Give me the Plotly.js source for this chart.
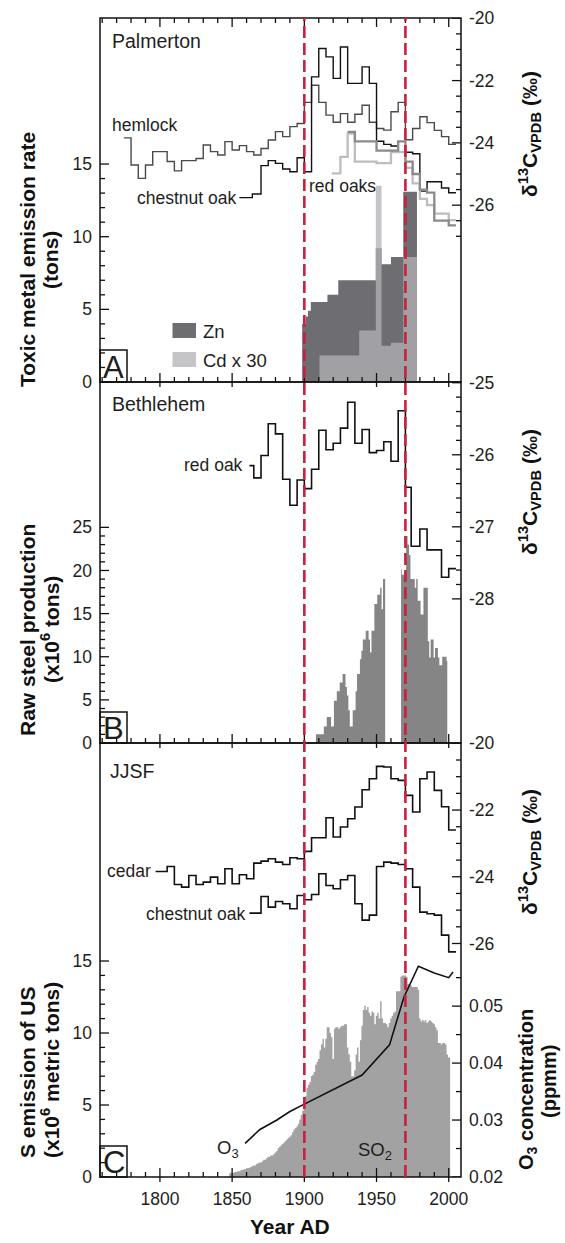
<!DOCTYPE html>
<html><head><meta charset="utf-8">
<script src="https://cdn.plot.ly/plotly-3.0.1.min.js"></script>
<style>html,body{margin:0;padding:0;background:#fff}#chart{width:565px;height:1243px}</style>
</head><body><div id="chart"></div>
<script>
// ---------------- DATA ----------------
// Panel A (Palmerton)
const znYears = [1898.5, 1901, 1902.5, 1904.5, 1916, 1923.5, 1949.5, 1953.5, 1960, 1968.5, 1978];
const znTons  = [4.0, 4.5, 4.9, 5.5, 6.0, 7.0, 9.2, 8.1, 8.6, 13.1, 0];
const cdYears = [1910.5, 1938, 1949.5, 1953.5, 1960, 1968.5, 1978];
const cdTonsX30 = [1.83, 3.55, 13.5, 2.5, 2.7, 8.6, 0];

const hemlockYears = [1775,1780,1785,1790,1795,1800,1805,1810,1815,1820,1825,1830,1835,1840,1845,1850,1855,1860,1865,1870,1875,1880,1885,1890,1895,1900,1905,1910,1915,1920,1925,1930,1935,1940,1945,1950,1955,1960,1965,1970,1975,1980,1985,1990,1995,2000,2005];
const hemlockD13C = [-23.84,-24.71,-25.14,-24.71,-24.28,-24.28,-24.60,-24.90,-24.57,-24.57,-24.50,-24.07,-24.28,-24.39,-23.96,-24.23,-24.09,-24.28,-24.39,-24.18,-23.91,-23.64,-23.80,-23.48,-23.38,-22.70,-22.15,-22.70,-23.11,-23.34,-23.06,-23.34,-23.08,-22.79,-23.34,-23.54,-23.59,-23.00,-22.70,-23.90,-23.54,-23.16,-23.35,-23.60,-23.80,-24.05,-24.05];

const chestnutAYears = [1855,1864,1870,1875,1880,1885,1890,1895,1900,1905,1910,1915,1920,1925,1930,1935,1940,1945,1950,1955,1960,1965,1970,1975,1980,1985,1990,1995,2000,2005];
const chestnutAD13C = [-25.76,-25.64,-24.73,-24.57,-24.66,-24.84,-24.93,-24.48,-24.93,-21.88,-20.97,-21.24,-21.93,-20.92,-22.09,-22.09,-21.56,-22.09,-23.95,-24.05,-24.10,-24.28,-24.30,-24.35,-25.55,-25.25,-25.25,-25.45,-25.60,-25.60];

const redOakLightYears = [1919,1925,1930,1935,1940,1945,1950,1955,1960,1965,1970,1975,1980,1985,1990,1995,2000,2005];
const redOakLightD13C = [-24.98,-24.45,-23.70,-24.60,-24.60,-24.60,-24.65,-24.65,-24.30,-24.30,-24.80,-25.30,-25.80,-26.00,-26.27,-26.27,-26.48,-26.48];
const redOakDarkYears = [1930,1935,1940,1945,1950,1955,1960,1965,1970,1975,1980,1985,1990,1995,2000,2005];
const redOakDarkD13C = [-23.65,-23.95,-23.95,-23.95,-24.25,-24.25,-24.25,-23.95,-24.60,-25.00,-25.50,-25.60,-26.50,-26.50,-26.65,-26.65];

// Panel B (Bethlehem)
const steelYears = [1908,1909,1910,1911,1912,1913,1914,1915,1916,1917,1918,1919,1920,1921,1922,1923,1924,1925,1926,1927,1928,1929,1930,1931,1932,1933,1934,1935,1936,1937,1938,1939,1940,1941,1942,1943,1944,1945,1946,1947,1948,1949,1950,1951,1952,1953,1954,1955,1956,1967,1968,1969,1970,1971,1972,1973,1974,1975,1976,1977,1978,1979,1980,1981,1982,1983,1984,1985,1986,1987,1988,1989,1990,1991,1992,1993,1994,1995,1996,1997,1998,1999];
const steelMt = [1.0,1.0,1.0,1.0,1.0,1.0,1.9,1.9,3.0,3.0,3.0,1.9,1.9,4.9,4.9,6.0,6.0,7.0,7.0,8.0,8.0,6.5,5.5,3.8,1.9,1.9,3.8,3.8,6.0,8.0,8.0,9.7,10.7,12.0,12.0,13.0,13.0,12.0,10.5,13.0,13.0,16.1,16.1,17.2,17.2,18.0,15.5,19.0,19.0,20.1,19.5,19.5,19.5,24.0,23.0,21.8,19.0,19.0,19.0,18.0,19.0,16.5,16.5,14.9,14.9,18.0,18.0,18.0,11.8,9.9,12.0,12.0,9.9,11.0,11.0,9.9,9.0,9.0,10.0,10.0,10.0,9.5];

const redOakBYears = [1862,1865,1870,1875,1880,1885,1890,1895,1900,1905,1910,1915,1920,1925,1930,1935,1940,1945,1950,1955,1960,1965,1970,1974,1980,1985,1995,2000,2005];
const redOakBD13C = [-26.15,-26.32,-26.01,-25.57,-25.71,-26.34,-26.70,-26.35,-26.47,-26.20,-25.66,-25.93,-25.84,-25.63,-25.27,-25.84,-25.65,-25.97,-25.94,-25.82,-26.09,-25.39,-26.45,-27.27,-27.03,-27.32,-27.70,-27.58,-27.58];

// Panel C (JJSF)
const so2Years = [1848,1849,1850,1851,1852,1853,1854,1855,1856,1857,1858,1859,1860,1861,1862,1863,1864,1865,1866,1867,1868,1869,1870,1871,1872,1873,1874,1875,1876,1877,1878,1879,1880,1881,1882,1883,1884,1885,1886,1887,1888,1889,1890,1891,1892,1893,1894,1895,1896,1897,1898,1899,1900,1901,1902,1903,1904,1905,1906,1907,1908,1909,1910,1911,1912,1913,1914,1915,1916,1917,1918,1919,1920,1921,1922,1923,1924,1925,1926,1927,1928,1929,1930,1931,1932,1933,1934,1935,1936,1937,1938,1939,1940,1941,1942,1943,1944,1945,1946,1947,1948,1949,1950,1951,1952,1953,1954,1955,1956,1957,1958,1959,1960,1961,1962,1963,1964,1965,1966,1967,1968,1969,1970,1971,1972,1973,1974,1975,1976,1977,1978,1979,1980,1981,1982,1983,1984,1985,1986,1987,1988,1989,1990,1991,1992,1993,1994,1995,1996,1997,1998,1999,2000,2001];
const so2Mt = [0.25,0.3,0.3,0.3,0.35,0.35,0.4,0.4,0.45,0.5,0.5,0.55,0.6,0.6,0.65,0.7,0.75,0.8,0.8,0.9,0.95,1.0,1.0,1.1,1.2,1.2,1.3,1.4,1.4,1.5,1.5,1.6,1.7,1.8,2.0,2.1,2.2,2.3,2.4,2.5,2.6,2.7,2.8,2.9,3.1,3.3,3.4,3.5,3.7,4.0,4.3,4.6,5.0,5.6,6.2,6.4,6.6,7.0,7.1,7.3,7.8,8.0,8.2,8.8,9.2,9.6,9.0,9.6,10.4,10.4,10.0,9.7,8.2,10.3,10.4,10.4,10.3,10.4,10.5,10.5,10.6,10.6,9.0,8.5,8.0,7.0,7.0,7.4,8.5,9.0,8.0,9.5,10.5,11.6,11.9,11.6,11.8,11.4,11.2,11.5,11.4,10.6,11.2,11.4,11.0,12.2,11.0,10.7,10.7,10.6,10.4,10.7,11.0,11.2,11.4,11.5,12.9,12.9,12.9,13.9,14.0,14.0,14.0,13.9,13.4,13.4,13.3,13.2,13.2,13.2,13.2,13.0,11.0,10.8,10.9,10.8,10.9,10.7,10.8,10.9,10.8,10.7,10.6,10.4,10.2,9.3,9.3,9.2,9.3,9.3,9.2,8.5,8.3,8.3];

const cedarYears = [1797,1805,1810,1815,1820,1825,1830,1835,1840,1845,1850,1855,1860,1865,1870,1875,1880,1885,1890,1895,1900,1905,1910,1915,1920,1925,1930,1935,1940,1945,1950,1955,1960,1965,1970,1975,1980,1985,1990,1995,2000,2005];
const cedarD13C = [-23.84,-23.69,-24.23,-24.31,-23.96,-24.23,-24.16,-24.01,-24.21,-23.76,-24.21,-23.94,-24.06,-23.59,-23.53,-23.46,-23.56,-23.63,-23.43,-23.46,-23.24,-22.83,-22.83,-22.23,-22.81,-22.51,-22.26,-21.91,-21.39,-21.06,-20.69,-20.71,-21.06,-21.11,-21.56,-22.06,-21.06,-20.86,-21.41,-21.90,-22.60,-22.60];

const chestnutCYears = [1862,1870,1875,1880,1885,1890,1895,1900,1905,1910,1915,1920,1925,1930,1935,1940,1945,1950,1955,1960,1965,1970,1975,1980,1985,1990,1995,2000,2005];
const chestnutCD13C = [-25.09,-24.59,-24.91,-24.74,-24.81,-24.96,-24.56,-24.69,-24.53,-23.91,-24.26,-24.36,-24.09,-23.96,-24.81,-25.30,-25.15,-23.69,-23.56,-23.59,-23.63,-23.76,-24.31,-25.06,-25.11,-25.15,-25.75,-26.25,-26.25];

const o3Years = [1859,1869,1881,1890,1900,1920,1940,1959,1969,1979,1990,2000,2003];
const o3Ppm = [0.0259,0.0283,0.0300,0.0315,0.0328,0.0353,0.0379,0.0432,0.0516,0.0570,0.0558,0.0550,0.0560];

const markerYears = [1900, 1970];

// tick labels
const xMajorTicks = [1800, 1850, 1900, 1950, 2000];
const aLeftTicks = [0, 5, 10, 15];
const aRightTicks = [-20, -22, -24, -26];
const bLeftTicks = [0, 5, 10, 15, 20, 25];
const bRightTicks = [-25, -26, -27, -28];
const cLeftTicks = [0, 5, 10, 15];
const cRightTicks = [-20, -22, -24, -26];
const o3Ticks = [0.02, 0.03, 0.04, 0.05];

// ---------------- LAYOUT HELPERS ----------------
const FONT = 'Liberation Sans, Arial, Helvetica, sans-serif';
const INK = '#111';
const TXT = '#1e1e1e';
const PL = 100, PR = 461, PT = 18, PB = 1177;
const W = PR - PL, H = PB - PT;
const xp = px => (px - PL) / W;
const yp = py => (PB - py) / H;
const A_BOT = 382, B_BOT = 743;
const domA = [yp(A_BOT), 1], domB = [yp(B_BOT), yp(A_BOT)], domC = [0, yp(B_BOT)];

function steps(a, b, s, skip) {
  const out = [];
  for (let v = a; v <= b + 1e-9; v += s) {
    const r = Math.round(v * 10000) / 10000;
    if (!skip.some(k => Math.abs(k - r) < 1e-6)) out.push(r);
  }
  return out;
}
// split an annual series into runs of consecutive years (a gap in the record breaks the run)
function runs(xs, ys) {
  const out = [];
  let cur = {x: [], y: []};
  xs.forEach((x, i) => {
    if (i > 0 && x - xs[i - 1] > 1) { out.push(cur); cur = {x: [], y: []}; }
    cur.x.push(x); cur.y.push(ys[i]);
  });
  out.push(cur);
  return out;
}

const tickFont = {family: FONT, size: 17.5, color: TXT};
function yAxis(o) {
  const ax = {
    showgrid: false, zeroline: false, fixedrange: true, showline: false, ticks: '',
    tickmode: 'array', tickvals: o.ticks, ticktext: o.ticks.map(v => String(v)),
    tickfont: tickFont, ticklabelstandoff: 7, range: o.range, anchor: 'x'
  };
  if (o.domain) ax.domain = o.domain;
  if (o.overlaying) ax.overlaying = o.overlaying;
  if (o.side) ax.side = o.side;
  return ax;
}

// ---------------- TRACES ----------------
const ZN = '#6d6d72';
const CD = 'rgba(178,178,183,0.75)';
const STEEL = '#858585';
const SO2C = '#a2a2a2';
const stepLine = (name, x, y, yaxis, color, width) => ({
  type: 'scatter', mode: 'lines', name, x, y, xaxis: 'x', yaxis,
  line: {shape: 'hv', color, width}, showlegend: false, hoverinfo: 'skip'
});
const annualArea = (name, x, y, yaxis, color) => ({
  type: 'scatter', mode: 'lines', name, x, y, xaxis: 'x', yaxis,
  line: {shape: 'hvh', width: 0, color}, fill: 'tozeroy', fillcolor: color, showlegend: false, hoverinfo: 'skip'
});

const traces = [
  {type: 'scatter', mode: 'lines', name: 'Zn', x: znYears, y: znTons, xaxis: 'x', yaxis: 'y',
   line: {shape: 'hv', width: 0, color: ZN}, fill: 'tozeroy', fillcolor: ZN, showlegend: false, hoverinfo: 'skip'},
  {type: 'scatter', mode: 'lines', name: 'Cd x 30', x: cdYears, y: cdTonsX30, xaxis: 'x', yaxis: 'y',
   line: {shape: 'hv', width: 0, color: CD}, fill: 'tozeroy', fillcolor: CD, showlegend: false, hoverinfo: 'skip'},
  stepLine('hemlock', hemlockYears, hemlockD13C, 'y2', '#4a4a4a', 1.4),
  stepLine('chestnut oak (Palmerton)', chestnutAYears, chestnutAD13C, 'y2', '#111', 1.4),
  stepLine('red oak (light)', redOakLightYears, redOakLightD13C, 'y2', '#bdbdbd', 2.3),
  stepLine('red oak (dark)', redOakDarkYears, redOakDarkD13C, 'y2', '#8a8a8a', 2.3)
];
runs(steelYears, steelMt).forEach(r => traces.push(annualArea('Raw steel production', r.x, r.y, 'y3', STEEL)));
traces.push(stepLine('red oak (Bethlehem)', redOakBYears, redOakBD13C, 'y4', '#111', 1.6));
runs(so2Years, so2Mt).forEach(r => traces.push(annualArea('SO2', r.x, r.y, 'y5', SO2C)));
traces.push(stepLine('cedar', cedarYears, cedarD13C, 'y6', '#111', 1.6));
traces.push(stepLine('chestnut oak (JJSF)', chestnutCYears, chestnutCD13C, 'y6', '#111', 1.6));
traces.push({type: 'scatter', mode: 'lines', name: 'O3', x: o3Years, y: o3Ppm, xaxis: 'x', yaxis: 'y7',
   line: {color: '#111', width: 1.6}, showlegend: false, hoverinfo: 'skip'});

// ---------------- SHAPES (frame, ticks, markers, legend) ----------------
const shapes = [];
const tickLine = {color: INK, width: 1.3};
[[PT, A_BOT], [A_BOT, B_BOT], [B_BOT, PB]].forEach(([t, b]) => shapes.push({
  type: 'rect', xref: 'paper', yref: 'paper', x0: 0, x1: 1, y0: yp(b), y1: yp(t),
  line: {color: INK, width: 1.5}, fillcolor: 'rgba(0,0,0,0)', layer: 'above'
}));
const xMinor = steps(1760, 2000, 10, xMajorTicks);
function xTicks(py, dir) {
  xMajorTicks.forEach(v => {
    shapes.push({type: 'line', xref: 'x', yref: 'paper', x0: v, x1: v, y0: yp(py), y1: yp(py + dir * 9), line: tickLine, layer: 'above'});
    if (dir < 0) shapes.push({type: 'line', xref: 'x', yref: 'paper', x0: v, x1: v, y0: yp(py), y1: yp(py + 5), line: tickLine, layer: 'above'});
  });
  xMinor.forEach(v => shapes.push({type: 'line', xref: 'x', yref: 'paper', x0: v, x1: v, y0: yp(py), y1: yp(py + dir * 5), line: tickLine, layer: 'above'}));
}
xTicks(A_BOT, -1); xTicks(B_BOT, -1); xTicks(PB, -1); xTicks(PT, 1);
function yTicks(yref, side, majors, minors) {
  const x0 = side === 'left' ? 0 : 1, s = side === 'left' ? 1 : -1;
  majors.forEach(v => shapes.push({type: 'line', xref: 'paper', yref, x0, x1: x0 + s * 9 / W, y0: v, y1: v, line: tickLine, layer: 'above'}));
  minors.forEach(v => shapes.push({type: 'line', xref: 'paper', yref, x0, x1: x0 + s * 5 / W, y0: v, y1: v, line: tickLine, layer: 'above'}));
}
yTicks('y', 'left', aLeftTicks, steps(0, 15, 1, aLeftTicks));
yTicks('y2', 'right', aRightTicks, steps(-27, -20, 0.5, aRightTicks));
yTicks('y3', 'left', bLeftTicks, steps(0, 25, 1, bLeftTicks));
yTicks('y4', 'right', bRightTicks, steps(-28, -25, 0.2, bRightTicks));
yTicks('y5', 'left', cLeftTicks, steps(0, 15, 1, cLeftTicks));
yTicks('y6', 'right', cRightTicks, steps(-26, -20, 0.5, cRightTicks));
yTicks('y7', 'right', o3Ticks, steps(0.025, 0.055, 0.01, []));
markerYears.forEach(yr => shapes.push({
  type: 'line', xref: 'x', yref: 'paper', x0: yr, x1: yr, y0: 0, y1: 1,
  line: {color: '#c8203f', width: 2.6, dash: '12px,5px'}, layer: 'above'
}));
[[350, A_BOT], [712, B_BOT], [1146, PB]].forEach(([t, b]) => shapes.push({
  type: 'rect', xref: 'paper', yref: 'paper', x0: 0, x1: xp(127), y0: yp(b), y1: yp(t),
  line: {color: INK, width: 1.5}, fillcolor: 'rgba(0,0,0,0)', layer: 'above'
}));
shapes.push({type: 'rect', xref: 'paper', yref: 'paper', x0: xp(172.5), x1: xp(196), y0: yp(338), y1: yp(323),
  line: {width: 0}, fillcolor: ZN, layer: 'above'});
shapes.push({type: 'rect', xref: 'paper', yref: 'paper', x0: xp(172.5), x1: xp(196), y0: yp(367), y1: yp(352),
  line: {width: 0}, fillcolor: '#c5c5c8', layer: 'above'});

// ---------------- ANNOTATIONS ----------------
const ann = [];
const txt = (text, px, py, opts) => ann.push(Object.assign({
  text, xref: 'paper', yref: 'paper', x: xp(px), y: yp(py), showarrow: false,
  xanchor: 'left', yanchor: 'middle', font: {family: FONT, size: 17.5, color: TXT}
}, opts || {}));

txt('Palmerton', 110, 41, {font: {family: FONT, size: 19.5, color: TXT}});
txt('hemlock', 110, 125);
txt('chestnut oak', 238, 198.5, {xanchor: 'right'});
txt('red oaks', 307, 186);
txt('Zn', 201, 331, {font: {family: FONT, size: 18.5, color: TXT}});
txt('Cd x 30', 201, 360, {font: {family: FONT, size: 18.5, color: TXT}});
txt('A', 113.5, 367, {xanchor: 'center', font: {family: FONT, size: 31, color: TXT}});

txt('Bethlehem', 110, 404, {font: {family: FONT, size: 19.5, color: TXT}});
txt('red oak', 245, 465, {xanchor: 'right'});
txt('B', 113.5, 728.5, {xanchor: 'center', font: {family: FONT, size: 31, color: TXT}});

txt('JJSF', 108, 771, {font: {family: FONT, size: 19.5, color: TXT}});
txt('cedar', 153, 871, {xanchor: 'right'});
txt('chestnut oak', 246.7, 913.5, {xanchor: 'right'});
txt('O<sub>3</sub>', 228, 1149, {xanchor: 'center', font: {family: FONT, size: 18.5, color: TXT}});
txt('SO<sub>2</sub>', 375, 1151, {xanchor: 'center', font: {family: FONT, size: 18.5, color: TXT}});
txt('C', 113.5, 1162.5, {xanchor: 'center', font: {family: FONT, size: 31, color: TXT}});

const bold = {family: FONT, size: 21, color: '#111', weight: 'bold'};
const vt = (text, px, py, f) => txt('<b>' + text + '</b>', px, py, {xanchor: 'center', textangle: -90, font: f || bold});
vt('Toxic metal emission rate', 27, 260);
vt('(tons)', 50, 260);
vt('Raw steel production', 27, 630);
vt('(x10<sup>6</sup> tons)', 50, 630);
vt('S emission of US', 27, 1072);
vt('(x10<sup>6</sup> metric tons)', 50, 1070);
const d13 = 'δ<sup>13</sup>C<sub>VPDB</sub> (‰)';
vt(d13, 529, 134);
vt(d13, 529, 492);
vt(d13, 529, 852);
vt('O<sub>3</sub> concentration', 527, 1090, {family: FONT, size: 20, color: '#111', weight: 'bold'});
vt('(ppmm)', 549, 1082, {family: FONT, size: 20, color: '#111', weight: 'bold'});
txt('<b>Year AD</b>', 290, 1226, {xanchor: 'center', font: bold});

// ---------------- LAYOUT ----------------
const layout = {
  width: 565, height: 1243,
  margin: {l: PL, r: 565 - PR, t: PT, b: 1243 - PB},
  paper_bgcolor: '#fff', plot_bgcolor: '#fff',
  showlegend: false, hovermode: false,
  font: {family: FONT, color: TXT},
  xaxis: {domain: [0, 1], range: [1758.5, 2008.5], anchor: 'y5', showgrid: false, zeroline: false, fixedrange: true,
          showline: false, ticks: '', tickmode: 'array', tickvals: xMajorTicks, ticktext: xMajorTicks.map(String),
          tickfont: tickFont, ticklabelstandoff: 9},
  yaxis: yAxis({domain: domA, range: [0, 25.05], ticks: aLeftTicks}),
  yaxis2: yAxis({overlaying: 'y', side: 'right', range: [-31.68, -19.99], ticks: aRightTicks}),
  yaxis3: yAxis({domain: domB, range: [0, 41.85], ticks: bLeftTicks}),
  yaxis4: yAxis({overlaying: 'y3', side: 'right', range: [-30, -24.99], ticks: bRightTicks}),
  yaxis5: yAxis({domain: domC, range: [0, 30.14], ticks: cLeftTicks}),
  yaxis6: yAxis({overlaying: 'y5', side: 'right', range: [-33, -19.99], ticks: cRightTicks}),
  yaxis7: yAxis({overlaying: 'y5', side: 'right', range: [0.02, 0.0962], ticks: o3Ticks}),
  shapes: shapes,
  annotations: ann
};

Plotly.newPlot('chart', traces, layout, {staticPlot: true, displayModeBar: false});
</script>
</body></html>
